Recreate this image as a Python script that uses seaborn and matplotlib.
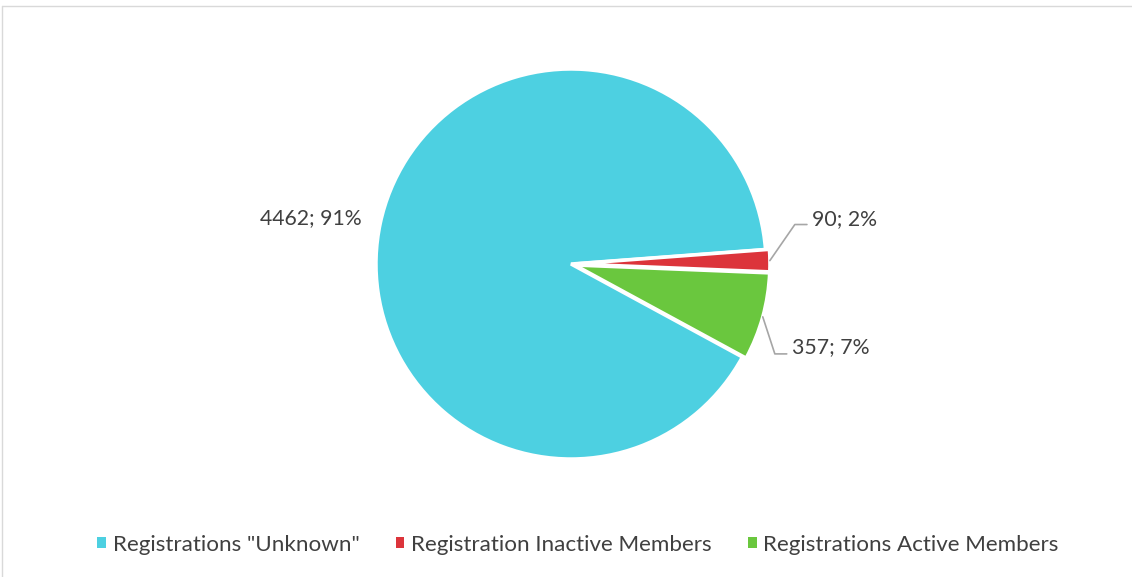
import numpy as np
import matplotlib
matplotlib.use("Agg")
import matplotlib.pyplot as plt
from matplotlib.patches import Patch
from matplotlib.lines import Line2D
import seaborn as sns

# données du graphique
categories = ['Registrations "Unknown"', 'Registration Inactive Members', 'Registrations Active Members']
values = [4462, 90, 357]
percent_labels = ['91%', '2%', '7%']
colors = ['#4DD0E1', '#DC343B', '#6AC73E']

sns.set_theme(style="white")
plt.rcParams['font.family'] = ['Lato', 'DejaVu Sans']
text_color = '#404040'
fs = 15.3

W, H = 1132, 577
fig = plt.figure(figsize=(W / 100, H / 100), dpi=100)
ax = fig.add_axes([0, 0, 1, 1])

# centre du camembert en pixels, rayon = 1 unité
cx, cy, unit = 571, 264, 195

wedges, _ = ax.pie(values, colors=colors, startangle=331.5, counterclock=False,
                   explode=[0, 0.02, 0.02], radius=1.0,
                   wedgeprops=dict(edgecolor='white', linewidth=2.5))
ax.set_xlim(-cx / unit, (W - cx) / unit)
ax.set_ylim(-(H - cy) / unit, cy / unit)
ax.set_aspect('auto')
ax.axis('off')

labels = [f"{v}; {p}" for v, p in zip(values, percent_labels)]

# étiquette de la grande part (à gauche, sans trait)
w = wedges[0]
mid = np.deg2rad((w.theta1 + w.theta2) / 2)
ax.text(1.1 * np.cos(mid), 1.1 * np.sin(mid) + 0.005, labels[0], ha='right', va='center',
        fontsize=fs, color=text_color)

# étiquettes avec traits de rappel : (coude), (fin du trait), (texte)
offsets = [None, ((0.128, 0.185), (0.19, 0.185), (0.215, 0.215)),
           ((0.062, -0.19), (0.123, -0.19), (0.149, -0.154))]
for i in (1, 2):
    w = wedges[i]
    mid = np.deg2rad((w.theta1 + w.theta2) / 2)
    x0 = w.center[0] + 1.0 * np.cos(mid)
    y0 = w.center[1] + 1.0 * np.sin(mid)
    (ex, ey), (hx, hy), (tx, ty) = offsets[i]
    ax.plot([x0, x0 + ex, x0 + hx], [y0, y0 + ey, y0 + hy], color='#A6A6A6', lw=1.2)
    ax.text(x0 + tx, y0 + ty, labels[i], ha='left', va='center',
            fontsize=fs, color=text_color)

handles = [Patch(facecolor=c, edgecolor='none') for c in colors]
fig.legend(handles, categories, loc='center', bbox_to_anchor=(578 / W, 1 - 545 / H),
           ncol=3, frameon=False, fontsize=16.1, handlelength=0.38, handleheight=0.38,
           handletextpad=0.3, columnspacing=1.63, labelcolor=text_color)

# bordure de la zone du graphique
border = '#D9D9D9'
fig.add_artist(Line2D([2 / W, 1], [1 - 6 / H, 1 - 6 / H], color=border, lw=1))
fig.add_artist(Line2D([2 / W, 2 / W], [0, 1 - 6 / H], color=border, lw=1))

fig.savefig('out.png', dpi=100)
